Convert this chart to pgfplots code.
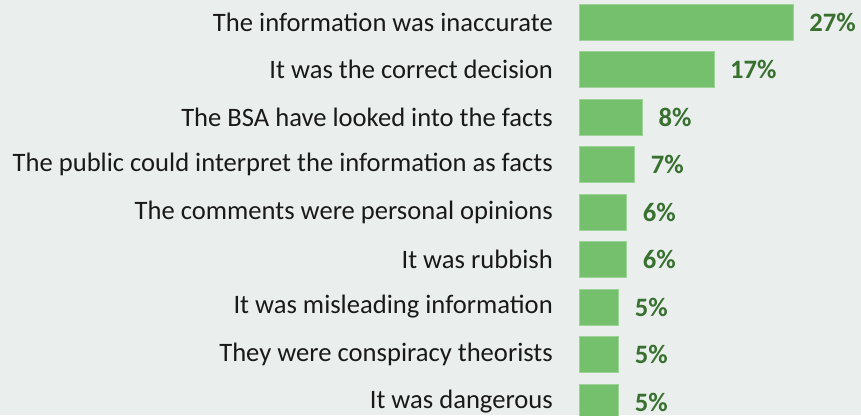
\documentclass[border=0pt]{standalone}
\usepackage{pgfplots}
\pgfplotsset{compat=1.18}
\usepackage{fontspec}
\setmainfont{Carlito}
\definecolor{bg}{HTML}{EAEFED}
\definecolor{barc}{HTML}{74C06C}
\definecolor{lab}{HTML}{38702F}
\begin{document}
\begin{tikzpicture}
\path[use as bounding box] (0,0) rectangle (861pt,415pt);
\clip (0,0) rectangle (861pt,415pt);
\fill[bg] (0,0) rectangle (861pt,415pt);
\begin{axis}[
  at={(579pt,-10.75pt)}, anchor=south west,
  scale only axis, width=282pt, height=427.5pt,
  xmin=0, xmax=35.56, ymin=-0.5, ymax=8.5,
  y dir=reverse,
  xbar, bar width=36pt,
  axis line style={draw=none},
  xtick=\empty,
  ytick={0,...,8},
  yticklabels={The information was inaccurate,It was the correct decision,The BSA have looked into the facts,The public could interpret the information as facts,The comments were personal opinions,It was rubbish,It was misleading information,They were conspiracy theorists,It was dangerous},
  major tick length=0pt,
  yticklabel style={font=\fontsize{26.6}{30}\selectfont, text=black!90, anchor=east, inner sep=0pt, xshift=-26pt},
  point meta=x,
  /pgf/number format/assume math mode=true,
  nodes near coords={\pgfmathprintnumber{\pgfplotspointmeta}\%},
  every node near coord/.append style={font=\fontsize{26.6}{30}\selectfont\bfseries, text=lab, anchor=west, inner sep=0pt, xshift=16pt},
  clip=false,
]
\addplot[fill=barc, draw=barc!70!white, line width=0.6pt] coordinates {
(27,0) (17,1) (8,2) (7,3) (6,4) (6,5) (5,6) (5,7) (5,8)
};
\end{axis}
\end{tikzpicture}
\end{document}
